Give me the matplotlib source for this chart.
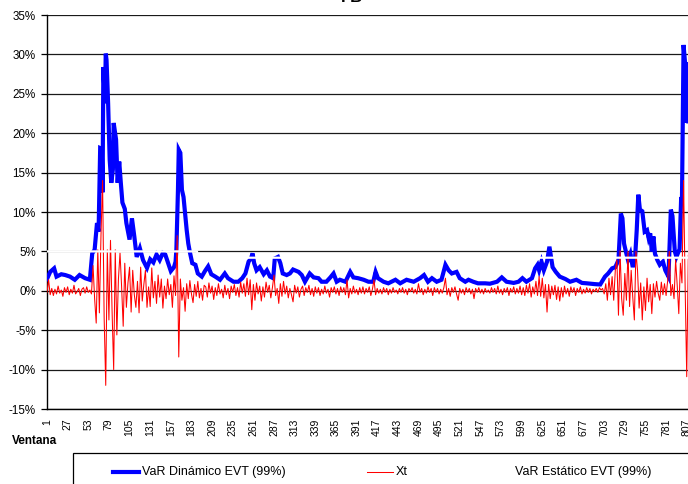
import matplotlib
matplotlib.use('Agg')
import matplotlib.pyplot as plt
import numpy as np
from matplotlib.ticker import FuncFormatter
from matplotlib.lines import Line2D
from matplotlib.patches import Rectangle

plt.rcParams['font.family'] = ['Liberation Sans', 'DejaVu Sans']

# VaR dinamico EVT (99%), read at turning points: window number, value in %
var_din_x = [1, 5, 10, 13, 19, 24, 30, 36, 42, 49, 55, 58, 61, 64, 66, 68, 70, 71, 72, 74,
             75, 76, 78, 80, 82, 84, 85, 88, 90, 92, 94, 96, 99, 101, 105, 108, 111, 114, 118, 122,
             127, 131, 135, 139, 143, 147, 150, 153, 157, 161, 163, 164, 166, 167, 169, 171, 173, 175, 177, 179,
             181, 184, 188, 191, 196, 200, 204, 208, 213, 219, 225, 229, 236, 242, 247, 251, 255, 258, 260, 262,
             265, 269, 274, 278, 282, 286, 288, 292, 295, 298, 303, 307, 311, 318, 322, 326, 332, 337, 343, 347,
             353, 358, 362, 366, 370, 377, 383, 387, 393, 400, 406, 412, 415, 418, 425, 431, 440, 446, 454, 463,
             471, 476, 481, 486, 492, 498, 503, 507, 511, 517, 521, 528, 532, 538, 544, 553, 559, 568, 574, 580,
             589, 595, 600, 605, 612, 616, 619, 621, 624, 627, 631, 634, 636, 638, 642, 647, 654, 660, 668, 675,
             681, 691, 698, 704, 708, 713, 717, 721, 724, 726, 728, 731, 733, 736, 739, 742, 744, 746, 748, 751,
             754, 757, 759, 761, 763, 765, 767, 770, 773, 777, 780, 784, 787, 789, 792, 794, 798, 800, 801, 803,
             805, 806, 807, 808, 809]
var_din_y = [1.5, 2.4, 2.85, 1.8, 2.1, 2.0, 1.8, 1.4, 2.0, 1.6, 1.4, 4.75, 5.2, 8.6, 7.5, 18.1, 18.0, 12.5, 28.4, 23.8,
             30.1, 29.3, 23.8, 16.6, 13.7, 15.4, 21.3, 19.2, 13.7, 16.4, 13.7, 11.2, 10.4, 8.6, 6.5, 9.2, 6.9, 4.3, 5.4, 3.9,
             2.9, 4.0, 3.6, 4.6, 3.9, 4.8, 4.6, 3.7, 2.5, 3.0, 3.7, 5.2, 12.8, 17.9, 17.5, 12.8, 11.9, 9.8, 7.7, 6.0,
             4.9, 3.5, 3.3, 2.2, 1.8, 2.5, 3.1, 2.1, 1.8, 1.4, 2.2, 1.6, 1.15, 1.15, 1.6, 2.2, 3.7, 4.1, 4.75, 3.5,
             2.6, 3.0, 2.1, 2.6, 1.8, 1.6, 4.1, 4.3, 3.5, 2.2, 2.0, 2.2, 2.7, 2.4, 2.0, 1.15, 2.2, 1.7, 1.6, 1.15,
             1.15, 1.7, 2.2, 1.15, 1.4, 1.15, 2.4, 1.7, 1.6, 1.4, 1.15, 1.15, 2.4, 1.6, 1.15, 0.95, 1.4, 0.95, 1.4, 1.15,
             1.6, 2.0, 1.15, 1.6, 1.15, 1.4, 3.3, 2.6, 2.2, 2.4, 1.6, 1.15, 1.4, 1.15, 0.95, 0.95, 0.9, 1.15, 1.7, 1.15,
             1.0, 1.15, 1.6, 1.15, 1.6, 2.85, 3.3, 2.6, 3.7, 2.6, 3.7, 5.6, 4.3, 3.0, 2.4, 1.8, 1.5, 1.15, 1.4, 1.0,
             0.95, 0.85, 0.8, 1.8, 2.2, 2.85, 3.0, 3.9, 9.8, 9.2, 6.0, 4.7, 3.9, 4.7, 3.0, 4.3, 7.7, 12.2, 10.3, 10.1,
             7.5, 7.7, 6.7, 7.3, 5.0, 6.9, 4.7, 3.9, 3.3, 3.7, 2.6, 1.8, 10.3, 9.5, 5.0, 4.3, 5.3, 11.9, 11.5, 31.2,
             28.8, 29.0, 21.3, 28.5, 21.5]

# Xt, every second window (1, 3, 5, ...), in %
xt = [
    # 1-57
    -0.2, 1.4, -0.5, 0.3, -0.6, 0.2, -0.4, 0.6, -0.3, 0.1, -0.7, 0.4, -0.2, 0.5, -0.5,
    0.2, -0.3, 0.7, -0.4, -0.1, 0.3, -0.6, 0.2, 0.4, -0.3, 0.5, -0.2, 0.1, -0.4,
    # 59-99
    3.2, -1.0, -4.1, 5.2, -2.8, 7.0, 14.0, -3.4, -12.0, 5.2, -3.7, 6.4, -2.6, -10.0, 5.2,
    -5.6, 1.5, 4.8, 0.5, -4.5, 3.5,
    # 101-161
    -2.1, 1.0, 3.0, -2.7, 2.6, -0.5, -2.1, 1.2, -2.8, 3.0, -1.3, 0.8, 2.6, -2.1, 0.5, -2.0,
    2.9, -0.9, 1.2, -1.6, 2.0, -0.8, 1.5, -2.2, 0.6, -1.0, 1.5, -0.5, 0.8, -2.1, 1.9,
    # 163-199
    -0.6, 7.0, -8.4, 1.5, -1.2, 0.4, -2.6, 0.9, -1.0, 1.3, -0.4, -1.5, 0.8, -0.7, 1.2,
    -0.9, 0.3, -1.2, 0.7,
    # 201-299
    0.5, -0.8, 1.0, -0.3, 0.6, -1.1, 0.4, -0.6, 0.9, -0.4, 0.2, -0.9, 0.7, -0.5, 0.3,
    -1.0, 0.6, -0.2, 0.8, -0.6, 0.4, -0.8, 1.1, -0.3, 0.9, -0.7, 1.6, -0.5, 1.4, -2.4,
    0.8, -1.2, 1.0, -0.4, 0.6, -1.3, 0.5, -0.8, 1.1, -0.2, 0.7, -0.9, 0.4, 2.0, -0.6,
    0.3, -1.6, 0.9, -0.7, 1.2,
    # 301-399
    -0.4, 0.6, -0.9, 0.3, -0.5, -1.4, 0.7, -0.3, 0.5, -0.8, 0.2, 0.6, -0.6, 0.4, -0.2,
    0.7, -0.5, 0.3, -0.7, 0.5, -0.3, 0.4, -0.6, 0.2, -0.4, 0.6, -0.3, 0.2, -0.8, 0.4,
    -0.2, 0.5, -0.4, 0.3, -0.6, 0.5, -0.2, 0.4, -0.5, 1.4, -0.9, 0.3, -0.4, 0.6, -0.3,
    0.2, -0.5, 0.4, -0.3, 0.5,
    # 401-499
    -0.4, 0.3, -0.2, 0.5, -0.6, 0.2, 1.4, -0.5, 0.3, -0.3, 0.2, -0.4, 0.4, -0.2, 0.3,
    -0.5, 0.2, -0.3, 0.4, -0.2, 0.1, -0.4, 0.3, -0.2, 0.4, -0.3, 0.2, -0.5, 0.3, -0.1,
    0.4, -0.3, 0.2, -0.4, 0.9, -0.2, 0.3, -0.5, 0.2, -0.3, 0.5, -0.2, 0.3, -0.6, 0.4,
    -0.2, 0.3, -0.4, 0.2, -0.3,
    # 501-599
    0.4, 1.6, -0.5, 0.3, -0.7, 0.4, -0.2, 0.5, -0.4, -1.2, 0.3, -0.3, 0.2, -0.5, 0.4,
    -0.2, 0.3, -0.4, 0.2, -1.0, 0.3, -0.2, 0.4, -0.3, 0.2, -0.4, 0.3, -0.2, 0.1, -0.3,
    0.4, -0.2, 0.3, -0.4, 0.6, -0.3, 0.2, -0.5, 0.3, -0.2, 0.4, -0.6, 0.3, -0.2, 0.5,
    -0.4, 0.3, -0.3, 0.6, -0.5,
    # 601-699
    0.4, -0.6, 0.7, -0.3, 0.9, -0.8, 0.5, -0.4, 1.2, -0.6, 1.8, -0.7, 1.6, -0.9, 0.8,
    -2.7, 0.8, -1.0, 0.6, -0.5, 0.7, -1.1, 0.5, -1.3, 0.4, -0.8, 0.6, -0.4, 0.3, -0.7,
    0.5, -0.2, 0.4, -0.6, 0.3, -0.2, 0.5, -0.4, 0.2, -0.3, 0.4, -0.2, 0.3, -0.4, 0.2,
    -0.1, 0.3, -0.2, 0.4, 0.1,
    # 701-809
    0.3, -0.4, 0.9, -1.2, 1.6, -0.5, 1.8, -1.2, 2.6, 3.9, -3.1, 5.1, -1.0, -3.1, 2.2,
    -1.2, 5.0, -2.0, 2.6, -0.8, -3.7, 5.0, 2.6, -2.2, 1.0, -3.7, 0.5, -2.5, 1.6, -1.4,
    0.8, -2.9, 0.9, -0.8, 1.2, -0.3, -1.2, 1.1, -0.5, 0.9, -0.6, 1.3, 5.0, -0.6, 0.8,
    -1.0, 3.9, 0.7, -2.9, 3.5, 1.0, 14.0, 0.5, -10.9, 4.5,
]
xt_x = 1 + 2 * np.arange(len(xt))

# VaR estatico EVT (99%), drawn in white
var_est_x = [1, 190, 191, 809]
var_est_y = [5.0, 5.0, 4.2, 4.2]

tick_labels = ['1', '27', '53', '79', '105', '131', '157', '183', '209', '235', '261', '287',
               '313', '339', '365', '391', '417', '443', '469', '495', '521', '547', '573', '599',
               '625', '651', '677', '703', '729', '755', '781', '807']
tick_pos = [int(t) for t in tick_labels]

fig = plt.figure(figsize=(6.88, 4.84), dpi=100)
ax = fig.add_axes([47/688, 1-409/484, 641/688, 394/484])

ax.plot(var_din_x, var_din_y, color='#0000ff', lw=3.0, solid_joinstyle='miter', zorder=3)
ax.plot(xt_x, xt, color='#ff0000', lw=0.75, zorder=4)
ax.plot(var_est_x, var_est_y, color='white', lw=1.6, zorder=5)

ax.set_xlim(1, 808.6)
ax.set_ylim(-15, 35)
ax.set_yticks(np.arange(-15, 36, 5))
ax.yaxis.set_major_formatter(FuncFormatter(lambda v, p: '%d%%' % round(v)))
ax.grid(axis='y', color='#1a1a1a', lw=0.9, zorder=1)
ax.set_axisbelow(True)

ax.set_xticks(tick_pos)
ax.set_xticklabels(tick_labels, rotation=90, fontsize=7.5)
ax.tick_params(axis='x', length=0, pad=7)
ax.tick_params(axis='y', length=4, width=0.9, direction='out', pad=4, labelsize=8.4)

for s in ['top', 'right']:
    ax.spines[s].set_visible(False)
ax.spines['left'].set_linewidth(1.0)
ax.spines['bottom'].set_linewidth(1.0)

fig.text(351.5/688, 1-2/484, 'FB', ha='center', va='baseline', fontsize=12, fontweight='bold')
fig.text(11.5/688, 1-441/484, 'Ventana', ha='left', va='center', fontsize=8.5, fontweight='bold')

# legend box, drawn by hand so it sits like the original
fig.add_artist(Rectangle((73/688, -0.2), 1.0, 0.2 + 1 - 453/484, transform=fig.transFigure,
                         facecolor='white', edgecolor='black', lw=0.9))
ly = 1 - 472/484
fig.add_artist(Line2D([113/688, 139/688], [ly, ly], transform=fig.transFigure, color='#0000ff', lw=3.0))
fig.text(142/688, ly, 'VaR Dinámico EVT (99%)', ha='left', va='center', fontsize=9)
fig.add_artist(Line2D([367/688, 393/688], [ly, ly], transform=fig.transFigure, color='#ff0000', lw=0.75))
fig.text(396/688, ly, 'Xt', ha='left', va='center', fontsize=9)
fig.add_artist(Line2D([487/688, 513/688], [ly, ly], transform=fig.transFigure, color='white', lw=1.6))
fig.text(515/688, ly, 'VaR Estático EVT (99%)', ha='left', va='center', fontsize=9)

fig.savefig('out.png', dpi=100)
